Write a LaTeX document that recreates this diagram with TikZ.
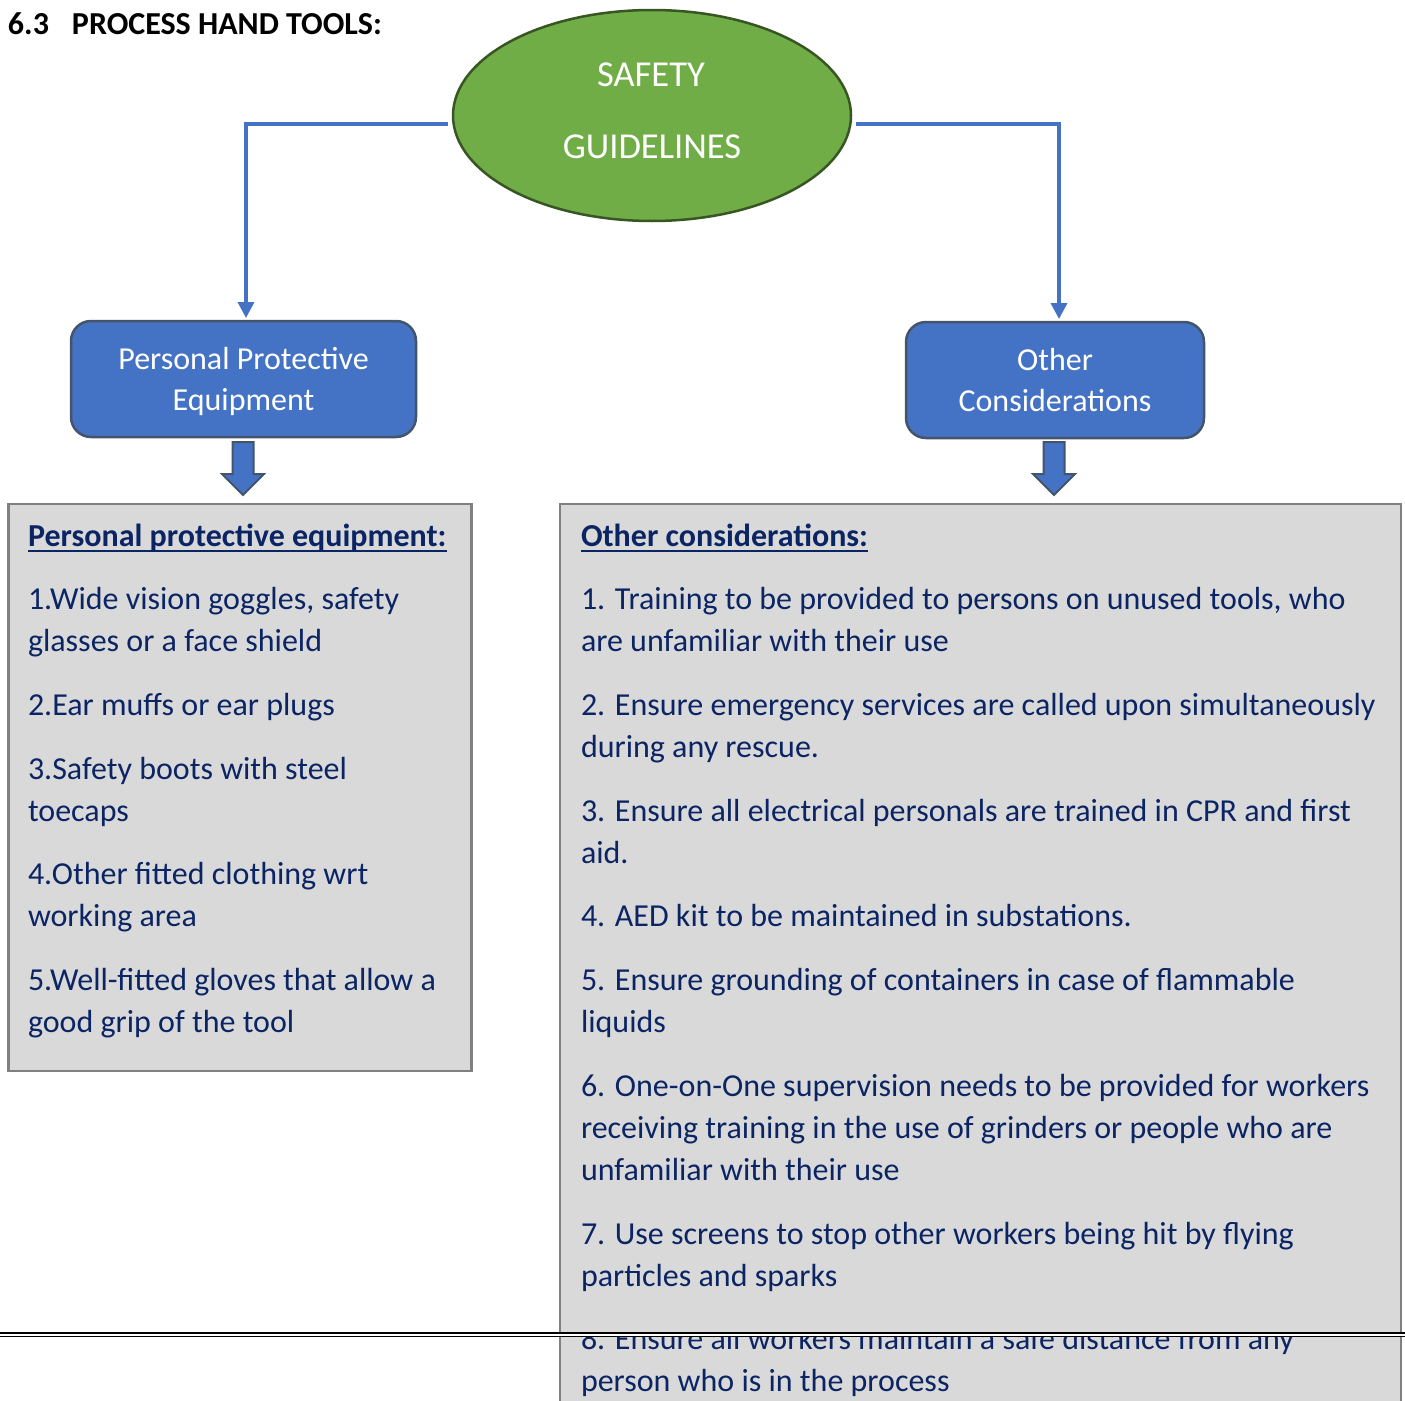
\documentclass[tikz,border=0pt]{standalone}
\usepackage{fontspec}
\setmainfont{Carlito}
\usetikzlibrary{arrows.meta,shapes.geometric}
\definecolor{lineblue}{HTML}{4472C4}
\definecolor{boxedge}{HTML}{44546A}
\definecolor{ellfill}{HTML}{70AD47}
\definecolor{elledge}{HTML}{375623}
\definecolor{panelfill}{HTML}{D9D9D9}
\definecolor{paneledge}{HTML}{808080}
\definecolor{navy}{HTML}{0B2463}
\begin{document}
\begin{tikzpicture}[x=1pt,y=-1pt,
  every node/.style={inner sep=0pt, outer sep=0pt},
  conn/.style={draw=lineblue, line width=3.5pt, -{Triangle[length=16pt,width=16pt]}, shorten >=3pt},
  rbox/.style={draw=boxedge, fill=lineblue, line width=2.5pt, rounded corners=20pt, rectangle},
  boxtext/.style={text=white, font=\fontsize{32}{41}\selectfont, anchor=base, align=center},
  elltext/.style={text=white, font=\fontsize{36.5}{40}\selectfont, anchor=base},
  panel/.style={draw=paneledge, fill=panelfill, line width=2.5pt, rectangle},
  para/.style={text=navy, font=\fontsize{32}{42}\selectfont, anchor=base west, align=left},
  headtext/.style={text=navy, font=\bfseries\fontsize{32}{42}\selectfont, anchor=base west},
  blockarrow/.style={draw=boxedge, fill=lineblue, line width=2pt, line join=miter},
  ul/.style={draw=navy, line width=2pt}
]
\useasboundingbox (0,0) rectangle (1405,1400);

% title
\node[anchor=base west, font=\bfseries\fontsize{32}{38}\selectfont] (title) at (8,34)
  {\makebox[64pt][l]{6.3}PROCESS HAND TOOLS:};

% root ellipse
\node[ellipse, draw=elledge, fill=ellfill, line width=2.5pt,
  minimum width=398pt, minimum height=211pt] (sg) at (652,115.5) {};
\node[elltext] (sg1) at (651,86) {SAFETY};
\node[elltext] (sg2) at (652,158) {GUIDELINES};

% category boxes
\node[rbox, minimum width=345pt, minimum height=116pt] (ppe) at (243.5,379) {};
\node[boxtext] (ppet) at (243.5,410) {Personal Protective\\Equipment};
\node[rbox, minimum width=298pt, minimum height=116pt] (oc) at (1055,380) {};
\node[boxtext] (oct) at (1055,411) {Other\\Considerations};

% connectors
\draw[conn] ([xshift=-5pt,yshift=-8.5pt]sg.west) -| ([xshift=2.5pt]ppe.north);
\draw[conn] ([xshift=5pt,yshift=-8.5pt]sg.east) -| ([xshift=4pt]oc.north);

% block arrows
\draw[blockarrow] (232.5,442) -- (253.5,442) -- (253.5,474) -- (264,474) -- (243,495)
  -- (222,474) -- (232.5,474) -- cycle;
\draw[blockarrow] (1043.5,442) -- (1064.5,442) -- (1064.5,474) -- (1075,474) -- (1054,495)
  -- (1033,474) -- (1043.5,474) -- cycle;

% panels
\node[panel, minimum width=463pt, minimum height=567pt, anchor=north west] (lp) at (8.5,504) {};
\node[panel, minimum width=841pt, minimum height=930pt, anchor=north west] (rp) at (560,504) {};

% left panel text (anchored at the baseline of the last line)
\node[headtext] (h1) at (28,546) {Personal protective equipment:};
\draw[ul] ([yshift=-5pt]h1.base west) -- ([yshift=-5pt]h1.base east);
\node[para] (p1) at (28,651) {1.Wide vision goggles, safety\\glasses or a face shield};
\node[para] (p2) at (28,715) {2.Ear muffs or ear plugs};
\node[para] (p3) at (28,821) {3.Safety boots with steel\\toecaps};
\node[para] (p4) at (28,926) {4.Other fitted clothing wrt\\working area};
\node[para] (p5) at (28,1032) {5.Well-fitted gloves that allow a\\good grip of the tool};

% right panel text
\node[headtext] (h2) at (581,546) {Other considerations:};
\draw[ul] ([yshift=-5pt]h2.base west) -- ([yshift=-5pt]h2.base east);
\node[para] (q1) at (581,651) {1. Training to be provided to persons on unused tools, who\\are unfamiliar with their use};
\node[para] (q2) at (581,757) {2. Ensure emergency services are called upon simultaneously\\during any rescue.};
\node[para] (q3) at (581,863) {3. Ensure all electrical personals are trained in CPR and first\\aid.};
\node[para] (q4) at (581,926) {4. AED kit to be maintained in substations.};
\node[para] (q5) at (581,1032) {5. Ensure grounding of containers in case of flammable\\liquids};
\node[para] (q6) at (581,1180) {6. One-on-One supervision needs to be provided for workers\\receiving training in the use of grinders or people who are\\unfamiliar with their use};
\node[para] (q7) at (581,1286) {7. Use screens to stop other workers being hit by flying\\particles and sparks};
\node[para] (q8) at (581,1391) {8. Ensure all workers maintain a safe distance from any\\person who is in the process};

% page break band
\fill[panelfill] (561.5,1325) rectangle (1398.5,1332);
\fill[white] (0,1332) rectangle (1405,1336.5);
\draw[black, line width=2pt] (0,1332.5) -- (1405,1332.5);
\draw[black, line width=1.2pt] (0,1336.3) -- (1405,1336.3);
\end{tikzpicture}
\end{document}
